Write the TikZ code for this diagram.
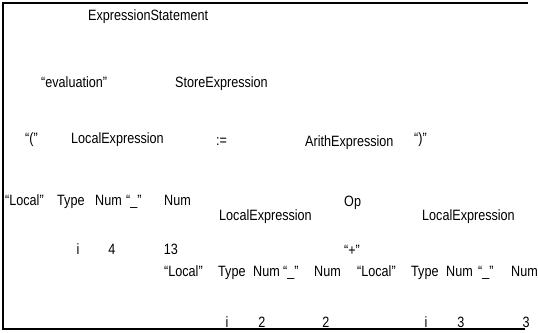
\documentclass[tikz,border=0pt]{standalone}
\usepackage{fontspec}
\setmainfont{Liberation Sans}
\newcommand{\tall}[1]{\scalebox{0.97}[1.15]{#1}}
\begin{document}
\begin{tikzpicture}[x=1pt,y=-1pt,
  lbl/.style={anchor=base west,inner sep=0pt,font=\fontsize{13}{15}\selectfont},
  lblc/.style={lbl,anchor=base},
  frame/.style={line width=1.2pt,black}]
\useasboundingbox (0,0) rectangle (538,332);
\draw[frame] (528,3) -- (3,3) -- (3,329) -- (525,329);
% row 1
\node[lbl] (es) at (88,20) {\tall{ExpressionStatement}};
% row 2
\node[lbl] (ev) at (41,87) {\tall{“evaluation”}};
\node[lbl] (se) at (175,87) {\tall{StoreExpression}};
% row 3
\node[lbl] (lp) at (25,143) {\tall{“(”}};
\node[lbl] (le1) at (71,143) {\tall{LocalExpression}};
\node[lbl] (as) at (216,145) {\tall{:=}};
\node[lbl] (ae) at (305,146) {\tall{ArithExpression}};
\node[lbl] (rp) at (414,143) {\tall{“)”}};
% row 4
\node[lbl] (lo1) at (5,205) {\tall{“Local”}};
\node[lbl] (ty1) at (57,205) {\tall{Type}};
\node[lbl] (na1) at (95,205) {\tall{Num}};
\node[lbl] (us1) at (126,205) {\tall{“\_”}};
\node[lbl] (nb1) at (164,205) {\tall{Num}};
\node[lbl] (le2) at (219,220) {\tall{LocalExpression}};
\node[lbl] (op) at (344,206) {\tall{Op}};
\node[lbl] (le3) at (422,220) {\tall{LocalExpression}};
% row 5
\node[lblc] (i1) at (78,254) {\tall{i}};
\node[lblc] (v4) at (112,254) {\tall{4}};
\node[lblc] (v13) at (171,254) {\tall{13}};
\node[lblc] (pl) at (352,255) {\tall{“+”}};
% row 6
\node[lbl] (lo2) at (164,276) {\tall{“Local”}};
\node[lbl] (ty2) at (218,276) {\tall{Type}};
\node[lbl] (na2) at (253,276) {\tall{Num}};
\node[lbl] (us2) at (283,276) {\tall{“\_”}};
\node[lbl] (nb2) at (314,276) {\tall{Num}};
\node[lbl] (lo3) at (357,276) {\tall{“Local”}};
\node[lbl] (ty3) at (411,276) {\tall{Type}};
\node[lbl] (na3) at (446,276) {\tall{Num}};
\node[lbl] (us3) at (478,276) {\tall{“\_”}};
\node[lbl] (nb3) at (511,276) {\tall{Num}};
% row 7
\node[lblc] (i2) at (227,327) {\tall{i}};
\node[lblc] (v2a) at (262,327) {\tall{2}};
\node[lblc] (v2b) at (326,327) {\tall{2}};
\node[lblc] (i3) at (426,327) {\tall{i}};
\node[lblc] (v3a) at (461,327) {\tall{3}};
\node[lblc] (v3b) at (526,327) {\tall{3}};
\end{tikzpicture}
\end{document}
